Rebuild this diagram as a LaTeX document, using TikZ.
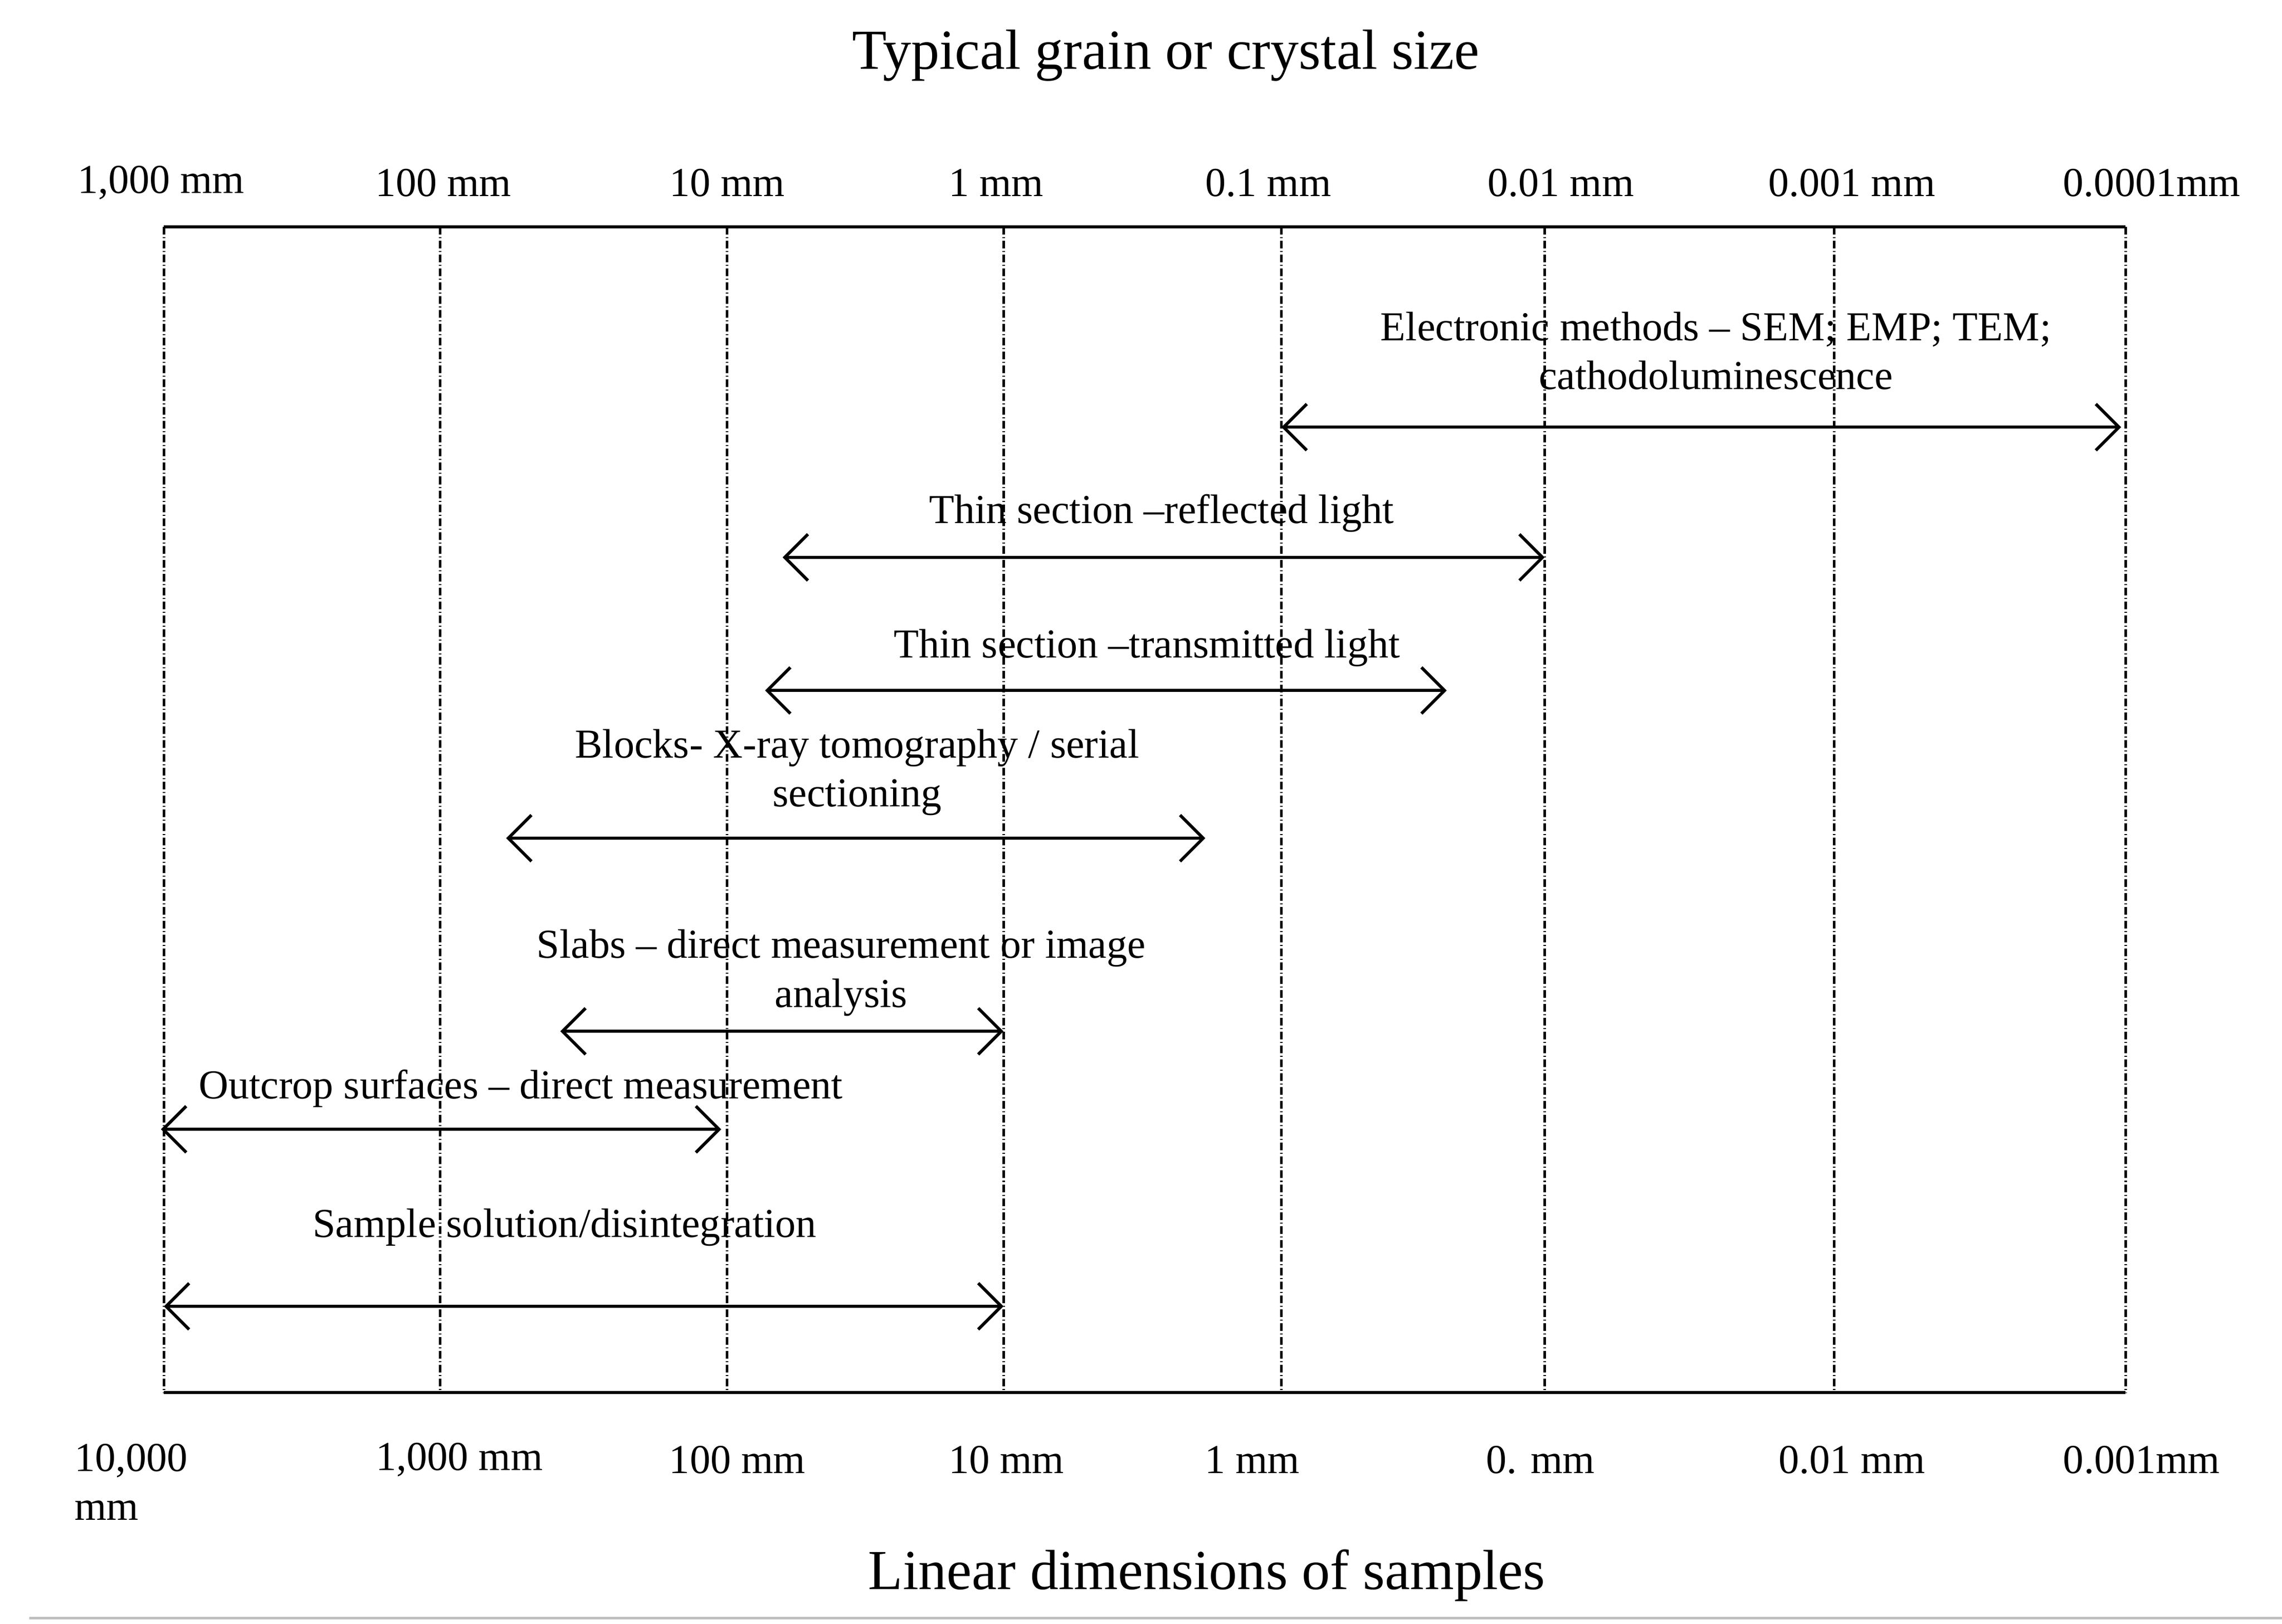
\documentclass[tikz,border=0pt]{standalone}
\usepackage{fontspec}
\setmainfont{Liberation Serif}
\usetikzlibrary{arrows.meta}

\tikzset{
  scaleline/.style={densely dashdotted, line width=1pt},
  spanarrow/.style={{Straight Barb[length=9pt,width=18pt]}-{Straight Barb[length=9pt,width=18pt]}, line width=1.2pt},
  lbl/.style={font=\fontsize{16}{19}\selectfont, align=center, inner sep=1pt}
}

\begin{document}
\begin{tikzpicture}[x=0.02cm, y=-0.02cm]
\useasboundingbox (0,0) rectangle (1560,1110);

% frame
\coordinate (tl) at (112,155);
\coordinate (tr) at (1453,155);
\coordinate (bl) at (112,952);
\coordinate (br) at (1453,952);
\draw[line width=1.2pt] (tl) -- (tr);
\draw[line width=1.2pt] (bl) -- (br);

% scale lines
\foreach \x [count=\i] in {112,301,497,686,876,1056,1254,1453} {
    \coordinate (t\i) at (\x,155);
    \coordinate (b\i) at (\x,952);
    \draw[scaleline] (t\i) -- (b\i);
}

% titles
\node[font=\fontsize{22}{26}\selectfont] (title) at (797,38) {Typical grain or crystal size};
\node[font=\fontsize{22}{26}\selectfont] (subtitle) at (825,1077) {Linear dimensions of samples};

% top scale
\foreach \x/\t [count=\i] in {110/{1,000 mm},303/100 mm,497/10 mm,681/1 mm,867/0.1 mm,1067/0.01 mm,1266/0.001 mm,1471/0.0001mm}
    \node[lbl] (top\i) at (\x,125) {\t};

% bottom scale
\node[lbl, align=left, anchor=north west] (bot1) at (49,985) {10,000\\mm};
\foreach \x/\t [count=\i from 2] in {314/{1,000 mm},504/100 mm,688/10 mm,856/1 mm,1053/0. mm,1266/0.01 mm,1464/0.001mm}
    \node[lbl] (bot\i) at (\x,998) {\t};

% methods
\coordinate (e1) at (876,292);  \coordinate (e2) at (1450,292);
\coordinate (r1) at (535,381);  \coordinate (r2) at (1056,381);
\coordinate (m1) at (523,472);  \coordinate (m2) at (989,472);
\coordinate (x1) at (346,573);  \coordinate (x2) at (824,573);
\coordinate (s1) at (383,705);  \coordinate (s2) at (686,705);
\coordinate (o1) at (110,772);  \coordinate (o2) at (493,772);
\coordinate (d1) at (112,893);  \coordinate (d2) at (686,893);

\draw[spanarrow] (e1) -- (e2);
\draw[spanarrow] (r1) -- (r2);
\draw[spanarrow] (m1) -- (m2);
\draw[spanarrow] (x1) -- (x2);
\draw[spanarrow] (s1) -- (s2);
\draw[spanarrow] (o1) -- (o2);
\draw[spanarrow] (d1) -- (d2);

\node[lbl] (elec) at (1173,240) {Electronic methods -- SEM; EMP; TEM;\\cathodoluminescence};
\node[lbl] (refl) at (794,351) {Thin section --reflected light};
\node[lbl] (trans) at (784,443) {Thin section --transmitted light};
\node[lbl] (block) at (586,528) {Blocks- X-ray tomography / serial\\sectioning};
\node[lbl] (slab) at (575,665) {Slabs -- direct measurement or image\\analysis};
\node[lbl] (outc) at (356,744) {Outcrop surfaces -- direct measurement};
\node[lbl] (samp) at (386,839) {Sample solution/disintegration};

% bottom rule
\coordinate (g1) at (20,1106);
\coordinate (g2) at (1560,1106);
\draw[gray!50, line width=1pt] (g1) -- (g2);
\end{tikzpicture}
\end{document}
